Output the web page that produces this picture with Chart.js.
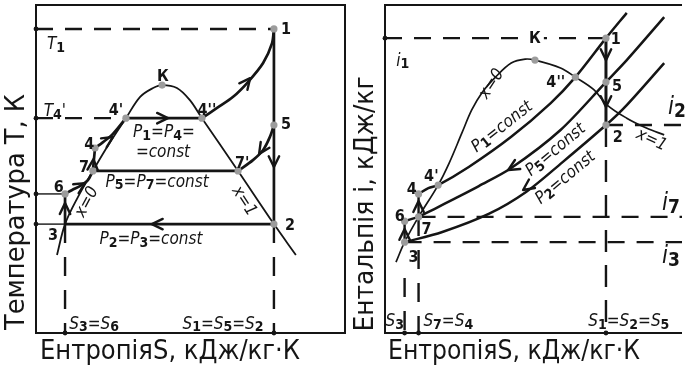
<!DOCTYPE html>
<html>
<head>
<meta charset="utf-8">
<script src="https://cdn.jsdelivr.net/npm/chart.js@4.4.0/dist/chart.umd.min.js"></script>
<style>
body { margin: 0; background: #fff; }
#wrap { position: relative; width: 686px; height: 370px; }
canvas { position: absolute; top: 0; }
</style>
</head>
<body>
<div id="wrap">
  <canvas id="tsChart" width="350" height="370" style="left:0"></canvas>
  <canvas id="isChart" width="336" height="370" style="left:350px"></canvas>
</div>
<script>
// ---------- T-S diagram (entropy, temperature) ----------
var domeS = [6.8, 9.4, 13.6, 18.4, 23.6, 29.1, 33.7, 37.9, 40.8, 45.6, 49.8, 53.7, 65.4, 77.0, 84.1];
var domeT = [23.8, 33.2, 41.5, 49.4, 57.6, 65.5, 72.0, 74.7, 75.6, 74.7, 71.0, 65.5, 49.4, 33.2, 23.8];

// named state points: 1, K, 5, 4', 4'', 4, 7, 7', 2, 6
var tsPointS = [77.0, 40.8, 77.0, 29.1, 53.7, 19.1, 18.4, 65.4, 77.0, 9.4];
var tsPointT = [92.7, 75.6, 63.4, 65.5, 65.5, 56.4, 49.4, 49.4, 33.2, 42.4];

var p1S = [29.1, 53.7];                 // 4' -> 4''
var p1T = [65.5, 65.5];
var superS = [53.7, 58.6, 63.8, 68.6, 73.5, 76.4, 77.0];   // 4'' -> 1
var superT = [65.5, 68.6, 72.0, 76.5, 82.3, 88.4, 92.7];
var expS = [77.0, 77.0];                // 1 -> 5 -> 2
var expT = [92.7, 33.2];
var p5curveS = [77.0, 75.7, 73.5, 70.2, 65.4];             // 5 -> 7'
var p5curveT = [63.4, 59.8, 55.8, 52.7, 49.4];
var p5S = [18.4, 65.4];                 // 7 -> 7'
var p5T = [49.4, 49.4];
var p2S = [77.0, 9.4];                  // 2 -> 3
var p2T = [33.2, 33.2];
var pumpS = [9.4, 9.4];                 // 3 -> 6
var pumpT = [33.2, 42.4];
var heatS = [9.4, 11.7, 14.2, 16.8, 18.4];                 // 6 -> 7
var heatT = [42.4, 43.6, 44.8, 46.6, 49.4];
var pump2S = [18.4, 19.1];              // 7 -> 4
var pump2T = [49.4, 56.4];
var heat2S = [19.1, 21.7, 24.9, 29.1];  // 4 -> 4'
var heat2T = [56.4, 58.2, 60.7, 65.5];

// arrows: tip S, tip T, tail S, tail T
var tsArrows = [
  [42.7, 65.5, 38.0, 65.5],
  [69.3, 77.7, 67.0, 75.0],
  [77.0, 50.6, 77.0, 54.0],
  [72.2, 54.6, 74.1, 57.3],
  [37.5, 33.2, 41.0, 33.2],
  [9.4, 39.6, 9.4, 36.5],
  [15.9, 45.7, 13.3, 44.2],
  [18.6, 53.0, 18.4, 50.5],
  [24.9, 59.8, 22.3, 58.2]
];

// labels: text, S, T, kind ('pt' point number, 'it' italic formula), rotation
var tsLabels = [
  ['1', 80.9, 92.7, 'pt', 0], ['К', 41.1, 78.4, 'pt', 0], ["4'", 25.9, 68.0, 'pt', 0],
  ["4''", 55.3, 68.0, 'pt', 0], ['5', 80.9, 63.7, 'pt', 0], ['4', 17.2, 57.6, 'pt', 0],
  ['7', 15.5, 50.6, 'pt', 0], ["7'", 66.7, 51.8, 'pt', 0], ['6', 7.4, 44.5, 'pt', 0],
  ['3', 5.5, 29.9, 'pt', 0], ['2', 82.2, 32.9, 'pt', 0],
  ['T1', 6.5, 87.8, 'it', 0], ["T4'", 6.1, 67.4, 'it', 0],
  ['P1=P4=', 41.4, 61.0, 'it', 0], ['=const', 41.1, 54.9, 'it', 0],
  ['P5=P7=const', 39.2, 46.0, 'it', 0], ['P2=P3=const', 37.2, 28.4, 'it', 0],
  ['x=0', 16.5, 39.9, 'it', -62], ['x=1', 67.3, 40.2, 'it', 57],
  ['S3=S6', 18.8, 2.7, 'it', 0], ['S1=S5=S2', 60.5, 2.7, 'it', 0]
];

// ---------- i-S diagram (entropy, enthalpy) ----------
var satS = [3.7, 6.6, 11.3, 17.9, 21.6, 25.9, 29.2, 32.6, 37.2, 42.5, 47.2, 50.5, 59.1, 64.1, 70.4, 74.8, 81.4, 88.0, 94.0];
var satI = [21.6, 27.7, 35.4, 45.1, 51.8, 61.0, 68.0, 73.2, 78.0, 82.3, 83.5, 83.2, 80.8, 78.0, 74.1, 69.5, 65.5, 62.5, 60.4];

// named state points: 1, K, 4'', 5, 2, 4', 4, 6, 7, 3
var isPointS = [74.4, 50.5, 64.1, 74.4, 74.4, 17.9, 11.3, 6.6, 11.3, 6.6];
var isPointI = [89.9, 83.2, 78.0, 76.5, 63.4, 45.1, 42.4, 34.1, 35.4, 27.7];

var isoP1S = [11.3, 14.6, 17.9, 28.2, 42.5, 55.8, 64.1, 74.4, 81.4];
var isoP1I = [42.4, 44.2, 45.1, 50.6, 59.8, 70.1, 78.0, 89.9, 97.6];
var isoP5S = [11.3, 16.6, 23.3, 31.6, 42.5, 59.1, 74.4, 81.4, 94.0];
var isoP5I = [35.4, 37.8, 40.9, 44.8, 50.3, 61.9, 76.5, 83.2, 96.3];
var isoP2S = [6.6, 19.3, 34.9, 47.5, 59.8, 74.4, 81.4, 94.0];
var isoP2I = [27.7, 30.8, 36.3, 43.0, 52.1, 63.4, 69.5, 82.3];
var isExpS = [74.4, 74.4];
var isExpI = [89.9, 63.4];
var isPumpS = [6.6, 6.6, 11.3, 11.3];   // 3 -> 6 -> 7 -> 4
var isPumpI = [27.7, 34.1, 35.4, 42.4];

var isArrows = [
  [74.4, 83.2, 74.4, 87.0],
  [74.4, 68.9, 74.4, 73.0],
  [41.5, 49.7, 44.9, 51.5],
  [46.5, 43.6, 49.8, 45.7],
  [6.6, 31.7, 6.6, 29.0],
  [11.3, 40.2, 11.3, 37.5]
];

var isLabels = [
  ['1', 77.7, 89.6, 'pt', 0], ['К', 50.5, 89.9, 'ptbox', 0], ["4''", 57.5, 76.5, 'pt', 0],
  ['5', 78.1, 75.3, 'pt', 0], ['2', 78.4, 59.8, 'pt', 0], ['4', 9.0, 43.9, 'pt', 0],
  ["4'", 15.6, 47.9, 'pt', 0], ['6', 5.0, 35.7, 'pt', 0], ['7', 14.0, 31.7, 'pt', 0],
  ['3', 9.6, 23.2, 'pt', 0],
  ['i1', 6.0, 82.9, 'it', 0],
  ['i2', 98.3, 68.6, 'big', 0], ['i7', 96.3, 39.3, 'big', 0], ['i3', 96.3, 23.2, 'big', 0],
  ['x=0', 35.9, 75.9, 'it', -57], ['x=1', 89.7, 58.8, 'it', 25],
  ['P1=const', 39.5, 62.8, 'it', -38], ['P5=const', 57.5, 55.8, 'it', -40],
  ['P2=const', 60.8, 47.3, 'it', -40],
  ['S3', 3.3, 3.4, 'it', 0], ['S7=S4', 21.3, 3.4, 'it', 0], ['S1=S2=S5', 82.1, 3.4, 'it', 0]
];

var INK = '#151515';
var FONT = '"DejaVu Sans Condensed", "DejaVu Sans", sans-serif';

function pts(S, T) {
  return S.map(function (s, i) { return { x: s, y: T[i] }; });
}

function line(S, T, width, extra) {
  var ds = {
    data: pts(S, T), showLine: true, pointRadius: 0, borderColor: INK,
    borderWidth: width, tension: 0, fill: false, clip: false
  };
  return Object.assign(ds, extra || {});
}

function dots(S, T, color, r) {
  return {
    data: pts(S, T), showLine: false, pointRadius: r, pointBackgroundColor: color,
    pointBorderWidth: 0, clip: false
  };
}

// italic formula text with subscript digits after letters
function drawRich(ctx, text, size) {
  var parts = [];
  for (var i = 0; i < text.length; i++) {
    var c = text[i];
    var sub = /[0-9]/.test(c) && i > 0 && /[A-Za-z]/.test(text[i - 1]);
    var font = sub ? 'bold ' + Math.round(size * 0.8) + 'px ' + FONT : 'italic ' + size + 'px ' + FONT;
    ctx.font = font;
    parts.push({ c: c, font: font, w: ctx.measureText(c).width, dy: sub ? size * 0.18 : 0 });
  }
  var total = parts.reduce(function (a, p) { return a + p.w; }, 0);
  var x = -total / 2;
  parts.forEach(function (p) {
    ctx.font = p.font;
    ctx.fillText(p.c, x, p.dy);
    x += p.w;
  });
}

function drawArrow(ctx, chart, a) {
  var xs = chart.scales.x, ys = chart.scales.y;
  var tx = xs.getPixelForValue(a[0]), ty = ys.getPixelForValue(a[1]);
  var bx = xs.getPixelForValue(a[2]), by = ys.getPixelForValue(a[3]);
  var ang = Math.atan2(ty - by, tx - bx);
  var len = 12, spread = 0.45;
  ctx.beginPath();
  ctx.moveTo(tx - len * Math.cos(ang - spread), ty - len * Math.sin(ang - spread));
  ctx.lineTo(tx, ty);
  ctx.lineTo(tx - len * Math.cos(ang + spread), ty - len * Math.sin(ang + spread));
  ctx.stroke();
}

function drawLabel(ctx, chart, lab) {
  var x = chart.scales.x.getPixelForValue(lab[1]);
  var y = chart.scales.y.getPixelForValue(lab[2]);
  ctx.save();
  ctx.translate(x, y);
  ctx.rotate(lab[4] * Math.PI / 180);
  ctx.textBaseline = 'middle';
  ctx.textAlign = 'left';
  ctx.fillStyle = INK;
  if (lab[3] === 'pt' || lab[3] === 'ptbox') {
    ctx.font = 'bold 16px ' + FONT;
    ctx.textAlign = 'center';
    if (lab[3] === 'ptbox') {
      var w = ctx.measureText(lab[0]).width;
      ctx.fillStyle = '#fff';
      ctx.fillRect(-w / 2 - 3, -9, w + 6, 18);
      ctx.fillStyle = INK;
    }
    ctx.fillText(lab[0], 0, 1);
  } else if (lab[3] === 'big') {
    drawRich(ctx, lab[0], 24);
  } else {
    drawRich(ctx, lab[0], 17);
  }
  ctx.restore();
}

function fitText(ctx, text, cx, cy, width, size, angle) {
  ctx.save();
  ctx.translate(cx, cy);
  ctx.rotate(angle);
  ctx.font = size + 'px ' + FONT;
  ctx.fillStyle = INK;
  ctx.textAlign = 'center';
  ctx.textBaseline = 'middle';
  var w = ctx.measureText(text).width;
  ctx.scale(width / w, 1);
  ctx.fillText(text, 0, 0);
  ctx.restore();
}

function decorations(arrows, labels, frame, titles) {
  return {
    id: 'decor',
    afterDatasetsDraw: function (chart) {
      var ctx = chart.ctx, a = chart.chartArea;
      ctx.save();
      ctx.strokeStyle = INK;
      ctx.lineWidth = 2;
      ctx.beginPath();
      if (frame === 'box') {
        ctx.rect(a.left, a.top, a.right - a.left, a.bottom - a.top);
      } else {
        ctx.moveTo(a.right, a.top);
        ctx.lineTo(a.left, a.top);
        ctx.lineTo(a.left, a.bottom);
        ctx.lineTo(a.right, a.bottom);
      }
      ctx.stroke();
      ctx.lineWidth = 2.4;
      ctx.lineCap = 'round';
      ctx.lineJoin = 'round';
      arrows.forEach(function (ar) { drawArrow(ctx, chart, ar); });
      labels.forEach(function (lab) { drawLabel(ctx, chart, lab); });
      titles(ctx);
      ctx.restore();
    }
  };
}

function baseOptions(pad) {
  return {
    responsive: false, animation: false, devicePixelRatio: 1, events: [],
    layout: { padding: pad },
    plugins: { legend: { display: false }, tooltip: { enabled: false } },
    scales: {
      x: { type: 'linear', min: 0, max: 100, display: false },
      y: { type: 'linear', min: 0, max: 100, display: false }
    }
  };
}

var DASH = [17, 12];
var VDASH = [19, 14];

new Chart(document.getElementById('tsChart'), {
  type: 'scatter',
  data: {
    datasets: [
      dots(tsPointS, tsPointT, '#9c9c9c', 3.6),
      dots([0, 0, 0, 0, 9.4, 77.0], [92.7, 65.5, 42.4, 33.2, 0, 0], INK, 2.4),
      line(domeS, domeT, 1.8, { tension: 0.35 }),
      line(p1S, p1T, 2.7),
      line(superS, superT, 2.7, { tension: 0.3 }),
      line(expS, expT, 2.7),
      line(p5curveS, p5curveT, 2.7, { tension: 0.3 }),
      line(p5S, p5T, 2.7),
      line(p2S, p2T, 2.7),
      line(pumpS, pumpT, 2.7),
      line(heatS, heatT, 2.7, { tension: 0.3 }),
      line(pump2S, pump2T, 2.7),
      line(heat2S, heat2T, 2.7, { tension: 0.3 }),
      line([0, 77.0], [92.7, 92.7], 2.4, { borderDash: DASH }),
      line([0, 29.1], [65.5, 65.5], 2.4, { borderDash: DASH }),
      line([9.4, 9.4], [33.2, 0], 2.4, { borderDash: VDASH }),
      line([77.0, 77.0], [33.2, 0], 2.4, { borderDash: VDASH }),
      line([0, 9.4], [42.4, 42.4], 1.4),
      line([0, 9.4], [33.2, 33.2], 1.4)
    ]
  },
  options: baseOptions({ left: 36, right: 5, top: 5, bottom: 37 }),
  plugins: [decorations(tsArrows, tsLabels, 'box', function (ctx) {
    fitText(ctx, 'Температура Т, К', 17, 212, 236, 26, -Math.PI / 2);
    fitText(ctx, 'ЕнтропіяS, кДж/кг·К', 170, 352, 260, 26, 0);
  })]
});

new Chart(document.getElementById('isChart'), {
  type: 'scatter',
  data: {
    datasets: [
      dots(isPointS, isPointI, '#9c9c9c', 3.6),
      dots([0, 6.6, 11.3, 74.4], [89.9, 0, 0, 0], INK, 2.4),
      line(satS, satI, 1.7, { tension: 0.35 }),
      line(isoP1S, isoP1I, 2.5, { tension: 0.3 }),
      line(isoP5S, isoP5I, 2.5, { tension: 0.3 }),
      line(isoP2S, isoP2I, 2.5, { tension: 0.3 }),
      line(isExpS, isExpI, 3),
      line(isPumpS, isPumpI, 2.4),
      line([0, 74.4], [89.9, 89.9], 2.4, { borderDash: DASH }),
      line([74.4, 100], [63.4, 63.4], 2.4, { borderDash: DASH }),
      line([11.3, 100], [35.4, 35.4], 2.4, { borderDash: DASH }),
      line([6.6, 100], [27.7, 27.7], 2.4, { borderDash: DASH }),
      line([74.4, 74.4], [63.4, 0], 2.4, { borderDash: [22, 13] }),
      line([6.6, 6.6], [16.8, 0], 2.4, { borderDash: VDASH }),
      line([11.3, 11.3], [35.4, 0], 2.4, { borderDash: VDASH })
    ]
  },
  options: baseOptions({ left: 35, right: 0, top: 5, bottom: 37 }),
  plugins: [decorations(isArrows, isLabels, 'open', function (ctx) {
    fitText(ctx, 'Ентальпія і, кДж/кг', 16, 204, 255, 26, -Math.PI / 2);
    fitText(ctx, 'ЕнтропіяS, кДж/кг·К', 164, 352, 252, 26, 0);
  })]
});
</script>
</body>
</html>
